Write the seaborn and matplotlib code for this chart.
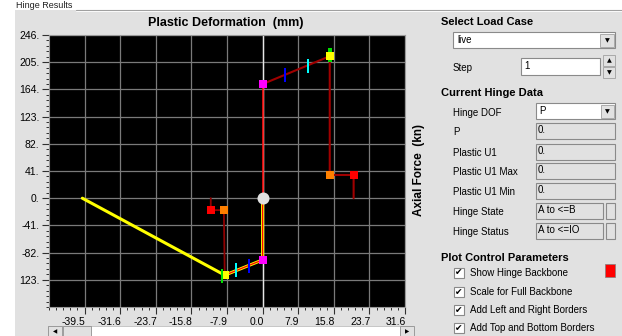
import numpy as np
import pandas as pd
import matplotlib
matplotlib.use("Agg")
import matplotlib.pyplot as plt
import matplotlib.transforms as mtransforms
from matplotlib.patches import Rectangle
from matplotlib.path import Path
from matplotlib.ticker import AutoMinorLocator, FixedLocator, FixedFormatter
import seaborn as sns

# ---------------- data ----------------
x_ticks = [-39.5, -31.6, -23.7, -15.8, -7.9, 0.0, 7.9, 15.8, 23.7, 31.6]
x_tick_labels = ["-39.5", "-31.6", "-23.7", "-15.8", "-7.9", "0.0", "7.9", "15.8", "23.7", "31.6"]
y_ticks = [-123, -82, -41, 0, 41, 82, 123, 164, 205, 246]
y_tick_labels = ["123.", "-82.", "-41.", "0.", "41.", "82.", "123.", "164.", "205.", "246."]

# hinge response path (yellow)
path_x = [-40.0, -8.4, 0.0, 0.0]
path_y = [0.0, -116.0, -93.0, 0.0]

# hinge backbone A-B-C-D-E (+ return to axis)
bb_pos_x = [0.0, 0.0, 14.9, 14.9, 20.2, 20.2]
bb_pos_y = [0.0, 172.0, 214.0, 35.0, 35.0, 0.0]
bb_neg_x = [0.0, 0.0, -8.4, -8.6, -11.5, -11.5]
bb_neg_y = [0.0, -93.0, -116.0, -18.0, -18.0, 0.0]

# backbone points (squares)
pt_B_x, pt_B_y = [0.0, 0.0], [172.0, -93.0]
pt_C_x, pt_C_y = [14.9, -8.4], [214.0, -116.0]
pt_D_x, pt_D_y = [14.9, -8.6], [35.0, -18.0]
pt_E_x, pt_E_y = [20.2, -11.5], [35.0, -18.0]
# acceptance criteria (bars)
io_x, io_y = [4.9, -3.1], [185.0, -102.0]
ls_x, ls_y = [10.0, -6.0], [199.0, -108.0]
cp_x, cp_y = [14.9, -8.9], [216.0, -118.0]
origin_x, origin_y = [0.0], [0.0]

# ---------------- styling ----------------
sns.set_theme(style="white")
plt.rcParams["font.family"] = ["Liberation Sans", "DejaVu Sans"]

PANEL = "#e1e1e1"
W, H = 622, 336
fig = plt.figure(figsize=(W / 100, H / 100), dpi=100)
fig.patch.set_facecolor("white")

bg = fig.add_axes([0, 0, 1, 1], zorder=0)
bg.set_xlim(0, W)
bg.set_ylim(H, 0)
bg.axis("off")

# group panel
bg.add_patch(Rectangle((15, 10), W - 15, H - 10, facecolor=PANEL, edgecolor="none"))
bg.plot([76, W], [10, 10], color="#a0a0a0", lw=0.8)
bg.plot([76, W], [11, 11], color="white", lw=0.6)
bg.text(16, 5.5, "Hinge Results", fontsize=6.5, va="center", ha="left", color="#202020")

# plot title and y label
bg.text(226, 23, "Plastic Deformation  (mm)", fontsize=9, fontweight="bold",
        ha="center", va="center", color="black")
bg.text(419, 170, "Axial Force  (kn)", fontsize=8.5, fontweight="bold", rotation=90,
        ha="center", va="center", color="black")

# scrollbar
bg.add_patch(Rectangle((48, 326), 364, 12, facecolor="white", edgecolor="#c0c0c0", lw=0.6))
bg.add_patch(Rectangle((48, 326), 14, 12, facecolor=PANEL, edgecolor="#909090", lw=0.6))
bg.add_patch(Rectangle((63, 326), 28, 12, facecolor=PANEL, edgecolor="#909090", lw=0.6))
bg.add_patch(Rectangle((400, 326), 14, 12, facecolor=PANEL, edgecolor="#909090", lw=0.6))
bg.text(55, 332, "\u25c0", fontsize=4, ha="center", va="center", color="black", family="DejaVu Sans")
bg.text(407, 332, "\u25b6", fontsize=4, ha="center", va="center", color="black", family="DejaVu Sans")


def box(x0, y0, x1, y1, fill="white"):
    bg.add_patch(Rectangle((x0, y0), x1 - x0, y1 - y0, facecolor=fill,
                           edgecolor="#8a8a8a", lw=0.8))


def arrow_btn(x0, y0, x1, y1, up=False):
    bg.add_patch(Rectangle((x0, y0), x1 - x0, y1 - y0, facecolor=PANEL,
                           edgecolor="#a0a0a0", lw=0.6))
    bg.text((x0 + x1) / 2, (y0 + y1) / 2, "\u25b2" if up else "\u25bc", fontsize=4.5,
            ha="center", va="center", color="black", family="DejaVu Sans")


def label(x, y, s, bold=False, size=7):
    bg.text(x, y, s, fontsize=8 if bold else size, fontweight="bold" if bold else "normal",
            ha="left", va="center", color="black")


label(441, 22, "Select Load Case", bold=True)
box(453, 32, 615, 48)
label(457, 40, "live")
arrow_btn(600, 34, 614, 47)

label(453, 68, "Step")
box(521, 58, 600, 75)
label(524, 66, "1")
arrow_btn(603, 55, 615, 66, up=True)
arrow_btn(603, 67, 615, 78)

label(441, 93, "Current Hinge Data", bold=True)
label(453, 113, "Hinge DOF")
box(536, 103, 615, 119)
label(539, 111, "P")
arrow_btn(601, 105, 614, 118)

rows = [(132, "P", "0."), (153, "Plastic U1", "0."), (172, "Plastic U1 Max", "0."),
        (192, "Plastic U1 Min", "0.")]
for yy, name, val in rows:
    label(453, yy, name)
    box(536, yy - 9, 615, yy + 7, fill=PANEL)
    label(538, yy - 2, val)

for yy, name, val in [(212, "Hinge State", "A to <=B"), (232, "Hinge Status", "A to <=IO")]:
    label(453, yy, name)
    box(536, yy - 9, 603, yy + 7, fill=PANEL)
    box(606, yy - 9, 615, yy + 7, fill=PANEL)
    label(538, yy - 2, val)

label(441, 258, "Plot Control Parameters", bold=True)
checks = [(273, "Show Hinge Backbone"), (292, "Scale for Full Backbone"),
          (310, "Add Left and Right Borders"), (328, "Add Top and Bottom Borders")]
for yy, name in checks:
    box(454, yy - 5, 464, yy + 5)
    bg.text(459, yy, "\u2714", fontsize=6.5, ha="center", va="center", color="black",
            family="DejaVu Sans")
    label(470, yy, name)
bg.add_patch(Rectangle((605, 264), 10, 13, facecolor="#ff0000", edgecolor="#808080", lw=0.5))

# ---------------- chart ----------------
ax = fig.add_axes([49 / W, 1 - 307 / H, (405 - 49) / W, (307 - 35) / H], zorder=2)
ax.set_facecolor("black")
ax.set_xlim(-47.4, 31.6)
ax.set_ylim(-164, 246)

ax.xaxis.set_major_locator(FixedLocator(x_ticks))
ax.xaxis.set_major_formatter(FixedFormatter(x_tick_labels))
ax.yaxis.set_major_locator(FixedLocator(y_ticks))
ax.yaxis.set_major_formatter(FixedFormatter(y_tick_labels))
ax.xaxis.set_minor_locator(AutoMinorLocator(5))
ax.yaxis.set_minor_locator(AutoMinorLocator(5))
ax.tick_params(which="major", direction="out", length=5, width=0.8, color="#303030",
               labelsize=7.5, labelcolor="black", pad=2)
ax.tick_params(which="minor", direction="out", length=2.5, width=0.7, color="#303030")
ax.tick_params(axis="x", bottom=True, which="both")
ax.tick_params(axis="y", left=True, which="both")
offset = mtransforms.ScaledTranslation(1 / 100, 0, fig.dpi_scale_trans)
for lab in ax.get_xticklabels():
    lab.set_ha("right")
    lab.set_transform(lab.get_transform() + offset)

ax.grid(True, which="major", color="#7a7a7a", lw=0.9)
for sp in ax.spines.values():
    sp.set_color("#9a9a9a")
    sp.set_linewidth(0.8)
ax.axvline(0, color="#e6e6e6", lw=1.0, zorder=1)
ax.set_xlabel("")
ax.set_ylabel("")

# hinge path (yellow)
sns.lineplot(x=path_x, y=path_y, sort=False, estimator=None, color="#ffff00", lw=2.2,
             ax=ax, zorder=3)
# backbone
sns.lineplot(x=bb_pos_x[:2], y=bb_pos_y[:2], sort=False, estimator=None, color="#ff0000",
             lw=1.1, ax=ax, zorder=4)
sns.lineplot(x=bb_pos_x[1:], y=bb_pos_y[1:], sort=False, estimator=None, color="#a00000",
             lw=1.5, ax=ax, zorder=4)
sns.lineplot(x=bb_neg_x[:3], y=bb_neg_y[:3], sort=False, estimator=None, color="#ff0000",
             lw=0.9, ax=ax, zorder=4)
sns.lineplot(x=bb_neg_x[2:], y=bb_neg_y[2:], sort=False, estimator=None, color="#900000",
             lw=1.3, ax=ax, zorder=4)

bar_marker = Path([(-0.22, -1), (0.22, -1), (0.22, 1), (-0.22, 1), (-0.22, -1)],
                  [Path.MOVETO, Path.LINETO, Path.LINETO, Path.LINETO, Path.CLOSEPOLY])

sns.scatterplot(x=cp_x[:1], y=cp_y[:1], marker=bar_marker, s=110, color="#00e000",
                linewidth=0, ax=ax, zorder=5)
for xs, ys, col in [(pt_B_x, pt_B_y, "#ff00ff"), (pt_C_x, pt_C_y, "#ffff00"),
                    (pt_D_x, pt_D_y, "#ff8000"), (pt_E_x, pt_E_y, "#ff0000")]:
    sns.scatterplot(x=xs, y=ys, marker="s", s=38, color=col, linewidth=0, ax=ax, zorder=6)
sns.scatterplot(x=cp_x[1:], y=cp_y[1:], marker=bar_marker, s=90, color="#00e000",
                linewidth=0, ax=ax, zorder=7)
sns.scatterplot(x=io_x, y=io_y, marker=bar_marker, s=90, color="#0000ff",
                linewidth=0, ax=ax, zorder=7)
sns.scatterplot(x=ls_x, y=ls_y, marker=bar_marker, s=90, color="#00ffff",
                linewidth=0, ax=ax, zorder=7)
sns.scatterplot(x=origin_x, y=origin_y, marker="o", s=75, color="#e0e0e0",
                linewidth=0, ax=ax, zorder=8)

fig.savefig("out.png", dpi=100, facecolor=fig.get_facecolor())
